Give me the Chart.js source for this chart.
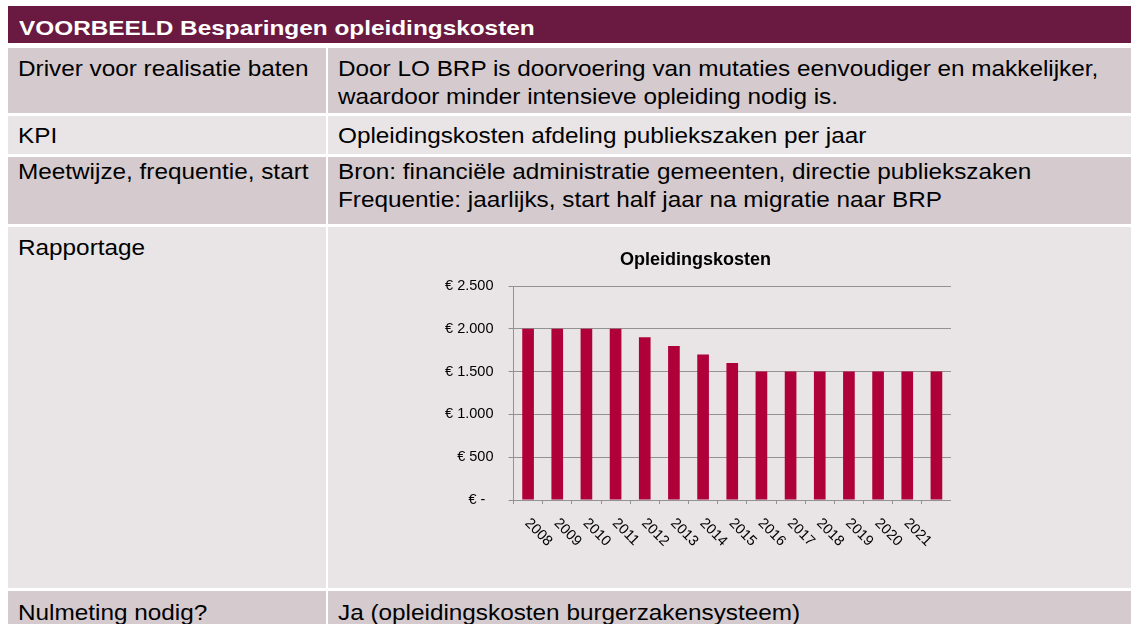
<!DOCTYPE html>
<html>
<head>
<meta charset="utf-8">
<script src="https://cdn.jsdelivr.net/npm/chart.js@4.4.1/dist/chart.umd.min.js"></script>
<style>
  html, body { margin: 0; padding: 0; background: #fff; }
  body { width: 1131px; height: 624px; overflow: hidden; position: relative;
         font-family: "Liberation Sans", Arial, Helvetica, sans-serif; }
  .cel { position: absolute; }
  .donker { background: #d5cbcf; }
  .licht { background: #e9e5e6; }
  .kop { position: absolute; left: 8px; top: 6px; width: 1123px; height: 37px; background: #6a1a41; }
  .txt { position: absolute; white-space: nowrap; font-size: 22px; line-height: 22px; color: #000;
         transform: scaleX(1.105); transform-origin: 0 0; }
  .kt { position: absolute; left: 19px; top: 16.7px; white-space: nowrap; font-size: 21px; line-height: 21px;
        font-weight: bold; color: #fff; transform: scaleX(1.16); transform-origin: 0 0; }
  #grafiek { position: absolute; left: 440px; top: 232px; }
</style>
</head>
<body>
<div class="kop"></div>
<div class="kt">VOORBEELD Besparingen opleidingskosten</div>

<!-- rij 1 -->
<div class="cel donker" style="left:8px;top:48px;width:318px;height:65px"></div>
<div class="cel donker" style="left:328px;top:48px;width:803px;height:65px"></div>
<!-- rij 2 -->
<div class="cel licht" style="left:8px;top:116px;width:318px;height:38px"></div>
<div class="cel licht" style="left:328px;top:116px;width:803px;height:38px"></div>
<!-- rij 3 -->
<div class="cel donker" style="left:8px;top:157px;width:318px;height:67px"></div>
<div class="cel donker" style="left:328px;top:157px;width:803px;height:67px"></div>
<!-- rij 4 -->
<div class="cel licht" style="left:8px;top:227px;width:318px;height:361px"></div>
<div class="cel licht" style="left:328px;top:227px;width:803px;height:361px"></div>
<!-- rij 5 -->
<div class="cel donker" style="left:8px;top:591px;width:318px;height:40px"></div>
<div class="cel donker" style="left:328px;top:591px;width:803px;height:40px"></div>

<div class="txt" style="left:18.3px;top:58.4px">Driver voor realisatie baten</div>
<div class="txt" style="left:338.3px;top:58.4px">Door LO BRP is doorvoering van mutaties eenvoudiger en makkelijker,</div>
<div class="txt" style="left:338.3px;top:86.4px">waardoor minder intensieve opleiding nodig is.</div>

<div class="txt" style="left:18.3px;top:125.1px">KPI</div>
<div class="txt" style="left:338.3px;top:125.1px">Opleidingskosten afdeling publiekszaken per jaar</div>

<div class="txt" style="left:18.3px;top:161.4px">Meetwijze, frequentie, start</div>
<div class="txt" style="left:338.3px;top:161.4px">Bron: financiële administratie gemeenten, directie publiekszaken</div>
<div class="txt" style="left:338.3px;top:189.4px">Frequentie: jaarlijks, start half jaar na migratie naar BRP</div>

<div class="txt" style="left:18.3px;top:237.4px">Rapportage</div>

<div class="txt" style="left:18.3px;top:601.7px">Nulmeting nodig?</div>
<div class="txt" style="left:338.3px;top:601.7px">Ja (opleidingskosten burgerzakensysteem)</div>

<canvas id="grafiek" width="511" height="348" style="width:511px;height:348px"></canvas>

<script>
// gegevens
var jaren = ['2008', '2009', '2010', '2011', '2012', '2013', '2014', '2015', '2016', '2017', '2018', '2019', '2020', '2021', ''];
var kosten = [2000, 2000, 2000, 2000, 1900, 1800, 1700, 1600, 1500, 1500, 1500, 1500, 1500, 1500, 1500];
var yTicks = [0, 500, 1000, 1500, 2000, 2500];

var lettertype = '"Liberation Sans", Arial, Helvetica, sans-serif';
var grijs = '#929292';

function euro(v) {
  if (v === 0) return '€ -  ';
  return '€ ' + String(v).replace(/\B(?=(\d{3})+(?!\d))/g, '.');
}

// jaartallen schuin naar rechtsonder, zoals in Excel
var jaarLabels = {
  id: 'jaarLabels',
  afterDraw: function(chart) {
    var ctx = chart.ctx;
    var x = chart.scales.x;
    ctx.save();
    ctx.font = '14.5px ' + lettertype;
    ctx.fillStyle = '#000';
    ctx.textAlign = 'left';
    ctx.textBaseline = 'middle';
    jaren.forEach(function(label, i) {
      var px = x.getPixelForValue(i);
      ctx.save();
      ctx.translate(px - 1, x.top + 21);
      ctx.rotate(Math.PI / 4);
      ctx.fillText(label, 0, 0);
      ctx.restore();
    });
    ctx.restore();
  }
};

var ctx = document.getElementById('grafiek').getContext('2d');
var grafiek = new Chart(ctx, {
  type: 'bar',
  data: {
    labels: jaren,
    datasets: [{
      data: kosten,
      backgroundColor: '#b0003a',
      borderWidth: 0,
      barPercentage: 0.4,
      categoryPercentage: 1
    }]
  },
  options: {
    responsive: false,
    animation: false,
    layout: { padding: 0 },
    plugins: {
      legend: { display: false },
      tooltip: { enabled: false },
      title: {
        display: true,
        text: 'Opleidingskosten',
        color: '#000',
        font: { family: lettertype, size: 18, weight: 'bold' },
        padding: { top: 17, bottom: 15.4 }
      }
    },
    scales: {
      x: {
        grid: { display: true, drawOnChartArea: false, drawTicks: true, tickLength: 4, color: grijs, offset: true },
        border: { color: grijs },
        ticks: { display: false },
        afterFit: function(s) { s.height = 80; }
      },
      y: {
        min: 0,
        max: 2500,
        afterBuildTicks: function(s) { s.ticks = yTicks.map(function(v) { return { value: v }; }); },
        ticks: { padding: 15, color: '#000', font: { family: lettertype, size: 14.5 }, callback: euro },
        grid: { color: grijs, tickLength: 5 },
        border: { color: grijs },
        afterFit: function(s) { s.width = 73.5; }
      }
    }
  },
  plugins: [jaarLabels]
});
</script>
</body>
</html>
